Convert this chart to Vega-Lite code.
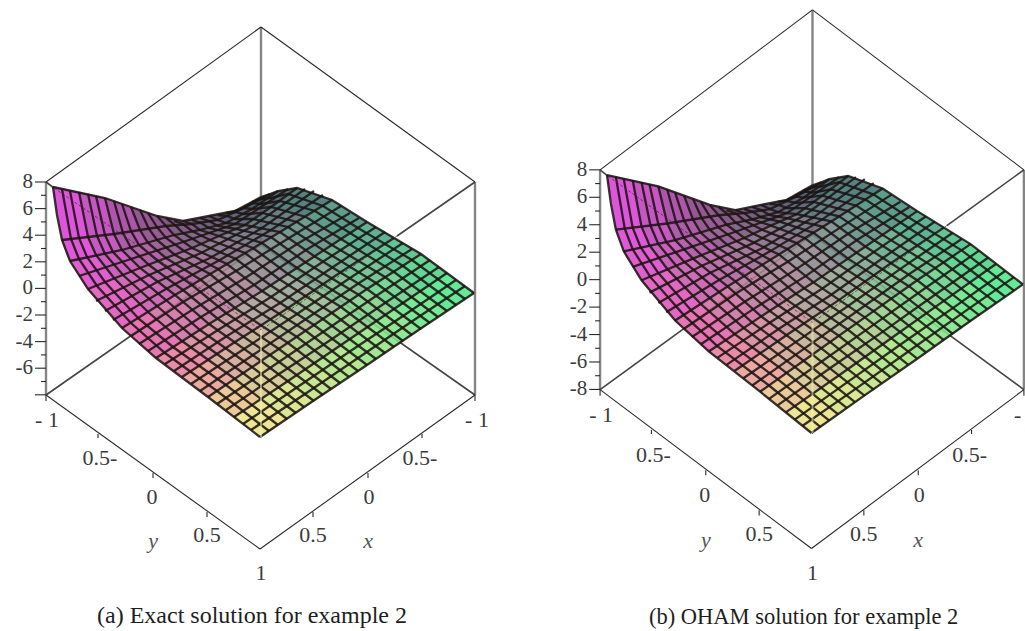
{"$schema":"https://vega.github.io/schema/vega-lite/v6.json","padding":0,"spacing":0,"background":"white","config":{"view":{"stroke":null},"text":{"font":"Liberation Serif"}},
"datasets":{
"cells":[
{"c":0,"xs":[53,79,88,62],"ys":[187,192,237,240]},{"c":1,"xs":[79,105,114,88],"ys":[192,198,234,237]},{"c":2,"xs":[105,131,140,114],"ys":[198,207,230,234]},{"c":3,"xs":[131,157,166,140],"ys":[207,216,226,230]},{"c":4,"xs":[157,183,192,166],"ys":[216,221,224,226]},{"c":5,"xs":[183,209,218,192],"ys":[221,216,220,224]},{"c":6,"xs":[209,235,244,218],"ys":[216,211,208,220]},{"c":7,"xs":[235,261,270,244],"ys":[211,197,194,208]},
{"c":8,"xs":[62,88,96,70],"ys":[240,237,255,261]},{"c":9,"xs":[88,114,122,96],"ys":[237,234,250,255]},{"c":10,"xs":[114,140,148,122],"ys":[234,230,243,250]},{"c":11,"xs":[140,166,174,148],"ys":[230,226,235,243]},{"c":12,"xs":[166,192,200,174],"ys":[226,224,230,235]},{"c":13,"xs":[192,218,226,200],"ys":[224,220,223,230]},{"c":14,"xs":[218,244,252,226],"ys":[220,208,209,223]},{"c":15,"xs":[244,270,278,252],"ys":[208,194,191,209]},
{"c":16,"xs":[70,96,114,88],"ys":[261,255,278,289]},{"c":17,"xs":[96,122,140,114],"ys":[255,250,268,278]},{"c":18,"xs":[122,148,166,140],"ys":[250,243,258,268]},{"c":19,"xs":[148,174,192,166],"ys":[243,235,248,258]},{"c":20,"xs":[174,200,219,192],"ys":[235,230,236,248]},{"c":21,"xs":[200,226,245,219],"ys":[230,223,225,236]},{"c":22,"xs":[226,252,271,245],"ys":[223,209,207,225]},{"c":23,"xs":[252,278,297,271],"ys":[209,191,188,207]},
{"c":24,"xs":[88,114,148,122],"ys":[289,278,312,328]},{"c":25,"xs":[114,140,175,148],"ys":[278,268,295,312]},{"c":26,"xs":[140,166,201,175],"ys":[268,258,280,295]},{"c":27,"xs":[166,192,227,201],"ys":[258,248,264,280]},{"c":28,"xs":[192,219,253,227],"ys":[248,236,248,264]},{"c":29,"xs":[219,245,280,253],"ys":[236,225,232,248]},{"c":30,"xs":[245,271,306,280],"ys":[225,207,217,232]},{"c":31,"xs":[271,297,332,306],"ys":[207,188,200,217]},
{"c":32,"xs":[122,148,182,156],"ys":[328,312,341,358]},{"c":33,"xs":[148,175,209,182],"ys":[312,295,324,341]},{"c":34,"xs":[175,201,235,209],"ys":[295,280,308,324]},{"c":35,"xs":[201,227,262,235],"ys":[280,264,291,308]},{"c":36,"xs":[227,253,288,262],"ys":[264,248,274,291]},{"c":37,"xs":[253,280,314,288],"ys":[248,232,256,274]},{"c":38,"xs":[280,306,341,314],"ys":[232,217,239,256]},{"c":39,"xs":[306,332,367,341],"ys":[217,200,222,239]},
{"c":40,"xs":[156,182,209,182],"ys":[358,341,360,377]},{"c":41,"xs":[182,209,235,209],"ys":[341,324,342,360]},{"c":42,"xs":[209,235,262,235],"ys":[324,308,325,342]},{"c":43,"xs":[235,262,288,262],"ys":[308,291,308,325]},{"c":44,"xs":[262,288,315,288],"ys":[291,274,290,308]},{"c":45,"xs":[288,314,341,315],"ys":[274,256,272,290]},{"c":46,"xs":[314,341,368,341],"ys":[256,239,255,272]},{"c":47,"xs":[341,367,394,368],"ys":[239,222,238,255]},
{"c":48,"xs":[182,209,235,208],"ys":[377,360,379,397]},{"c":49,"xs":[209,235,261,235],"ys":[360,342,361,379]},{"c":50,"xs":[235,262,288,261],"ys":[342,325,343,361]},{"c":51,"xs":[262,288,314,288],"ys":[325,308,325,343]},{"c":52,"xs":[288,315,341,314],"ys":[308,290,307,325]},{"c":53,"xs":[315,341,367,341],"ys":[290,272,289,307]},{"c":54,"xs":[341,368,394,367],"ys":[272,255,272,289]},{"c":55,"xs":[368,394,421,394],"ys":[255,238,254,272]},
{"c":56,"xs":[208,235,261,234],"ys":[397,379,399,417]},{"c":57,"xs":[235,261,288,261],"ys":[379,361,381,399]},{"c":58,"xs":[261,288,315,288],"ys":[361,343,363,381]},{"c":59,"xs":[288,314,341,315],"ys":[343,325,345,363]},{"c":60,"xs":[314,341,368,341],"ys":[325,307,327,345]},{"c":61,"xs":[341,367,394,368],"ys":[307,289,309,327]},{"c":62,"xs":[367,394,421,394],"ys":[289,272,291,309]},{"c":63,"xs":[394,421,447,421],"ys":[272,254,273,291]},
{"c":64,"xs":[234,261,287,260],"ys":[417,399,419,437]},{"c":65,"xs":[261,288,314,287],"ys":[399,381,401,419]},{"c":66,"xs":[288,315,340,314],"ys":[381,363,383,401]},{"c":67,"xs":[315,341,367,340],"ys":[363,345,365,383]},{"c":68,"xs":[341,368,394,367],"ys":[345,327,347,365]},{"c":69,"xs":[368,394,421,394],"ys":[327,309,329,347]},{"c":70,"xs":[394,421,447,421],"ys":[309,291,311,329]},{"c":71,"xs":[421,447,474,447],"ys":[291,273,293,311]}
],
"meshX":[
{"m":0,"xs":[53,57,62,70,88,122,156,208,260],"ys":[187,215,240,261,289,328,358,397,437]},
{"m":1,"xs":[62,71,79,97,131,165,217,269],"ys":[189,239,259,286,323,353,391,431]},
{"m":2,"xs":[70,79,87,105,139,173,226,278],"ys":[191,238,257,282,319,347,385,425]},
{"m":3,"xs":[79,88,96,114,148,182,235,287],"ys":[192,237,255,278,312,341,379,419]},
{"m":4,"xs":[88,97,105,123,157,191,243,296],"ys":[194,236,254,275,306,335,373,413]},
{"m":5,"xs":[96,105,113,131,166,200,252,304],"ys":[196,235,252,271,300,330,367,407]},
{"m":6,"xs":[105,114,122,140,175,209,261,314],"ys":[198,234,250,268,295,324,361,401]},
{"m":7,"xs":[114,123,131,149,183,218,270,323],"ys":[201,233,248,265,290,319,355,395]},
{"m":8,"xs":[122,131,139,158,192,226,279,331],"ys":[204,231,245,261,285,313,349,389]},
{"m":9,"xs":[131,140,148,166,201,235,288,340],"ys":[207,230,243,258,280,308,343,383]},
{"m":10,"xs":[140,149,157,175,210,244,297,349],"ys":[210,229,240,255,274,302,337,377]},
{"m":11,"xs":[148,157,166,184,218,253,306,358],"ys":[213,227,238,251,269,297,331,371]},
{"m":12,"xs":[157,166,174,192,227,262,314,367],"ys":[216,226,235,248,264,291,325,365]},
{"m":13,"xs":[166,175,183,201,236,270,323,376],"ys":[218,225,233,244,259,285,319,359]},
{"m":14,"xs":[174,183,192,210,245,279,332,385],"ys":[221,224,231,240,253,279,313,353]},
{"m":15,"xs":[183,192,200,219,253,288,341,394],"ys":[221,224,230,236,248,274,307,347]},
{"m":16,"xs":[192,201,209,227,262,297,350,403],"ys":[220,223,228,232,243,268,301,341]},
{"m":17,"xs":[200,209,218,236,271,305,359,412],"ys":[218,221,226,229,237,262,295,335]},
{"m":18,"xs":[209,218,226,245,280,314,367,421],"ys":[216,220,223,225,232,256,289,329]},
{"m":19,"xs":[218,227,235,253,288,323,376,430],"ys":[215,216,219,219,227,250,283,323]},
{"m":20,"xs":[226,235,244,262,297,332,385,438],"ys":[213,212,214,213,222,245,277,317]},
{"m":21,"xs":[235,244,252,271,306,341,394,447],"ys":[211,208,209,207,217,239,272,311]},
{"m":22,"xs":[244,253,261,280,315,350,403,456],"ys":[207,203,204,201,211,233,266,305]},
{"m":23,"xs":[252,261,270,288,323,358,412,465],"ys":[202,199,198,194,206,228,260,299]},
{"m":24,"xs":[261,270,278,297,332,367,421,474],"ys":[197,194,191,188,200,222,254,293]}
],
"meshY":[
{"k":0,"xs":[53,105,157,183,209,235,261],"ys":[187,198,216,221,216,211,197]},
{"k":1,"xs":[62,114,166,192,218,244,270],"ys":[240,234,226,224,220,208,194]},
{"k":2,"xs":[70,122,174,200,226,252,278],"ys":[261,250,235,230,223,209,191]},
{"k":3,"xs":[79,131,183,209,235,261,288],"ys":[276,259,242,233,224,207,189]},
{"k":4,"xs":[88,140,192,219,245,271,297],"ys":[289,268,248,236,225,207,188]},
{"k":5,"xs":[96,149,201,253,305],"ys":[301,275,253,226,189]},
{"k":6,"xs":[105,157,210,262,314],"ys":[311,282,258,228,191]},
{"k":7,"xs":[113,166,218,271,323],"ys":[320,289,261,230,195]},
{"k":8,"xs":[122,175,227,280,332],"ys":[328,295,264,232,200]},
{"k":9,"xs":[131,183,236,289,341],"ys":[336,302,271,238,206]},
{"k":10,"xs":[139,192,245,297,350],"ys":[344,310,278,244,213]},
{"k":11,"xs":[148,201,254,306,359],"ys":[351,317,285,250,218]},
{"k":12,"xs":[156,209,262,315,367],"ys":[358,324,291,256,222]},
{"k":13,"xs":[165,218,271,324,376],"ys":[364,330,297,261,227]},
{"k":14,"xs":[174,227,280,333,385],"ys":[371,336,303,267,232]},
{"k":15,"xs":[182,235,288,341,394],"ys":[377,342,308,272,238]},
{"k":16,"xs":[191,244,297,350,403],"ys":[384,349,314,278,243]},
{"k":17,"xs":[200,253,306,359,412],"ys":[391,355,319,283,249]},
{"k":18,"xs":[208,261,314,367,421],"ys":[397,361,325,289,254]},
{"k":19,"xs":[217,270,323,376,430],"ys":[404,368,332,296,260]},
{"k":20,"xs":[226,279,332,385,439],"ys":[410,374,339,303,267]},
{"k":21,"xs":[234,288,341,394,447],"ys":[417,381,345,309,273]},
{"k":22,"xs":[243,296,349,403,456],"ys":[424,388,352,316,280]},
{"k":23,"xs":[251,305,358,411,465],"ys":[430,394,358,322,286]},
{"k":24,"xs":[260,313,367,420,474],"ys":[437,401,365,329,293]}
],
"posts":[{"x":261,"y":27,"x2":261,"y2":245},{"x":46,"y":182,"x2":46,"y2":395},{"x":475,"y":182,"x2":475,"y2":395}],
"floor":[{"x":46,"y":395,"x2":261,"y2":245},{"x":475,"y":395,"x2":261,"y2":245},{"x":475,"y":182,"x2":397,"y2":236},{"x":46,"y":182,"x2":54,"y2":188}],
"thin":[{"x":261,"y":27,"x2":46,"y2":182},{"x":261,"y":27,"x2":475,"y2":182},{"x":46,"y":395,"x2":260,"y2":549},{"x":475,"y":395,"x2":260,"y2":549},
{"x":35,"y":182,"x2":46,"y2":182},{"x":35,"y":208.6,"x2":46,"y2":208.6},{"x":35,"y":235.2,"x2":46,"y2":235.2},{"x":35,"y":261.8,"x2":46,"y2":261.8},{"x":35,"y":288.4,"x2":46,"y2":288.4},{"x":35,"y":315,"x2":46,"y2":315},{"x":35,"y":341.6,"x2":46,"y2":341.6},{"x":35,"y":368.2,"x2":46,"y2":368.2},{"x":35,"y":394.8,"x2":46,"y2":394.8},
{"x":41,"y":195.3,"x2":46,"y2":195.3},{"x":41,"y":221.9,"x2":46,"y2":221.9},{"x":41,"y":248.5,"x2":46,"y2":248.5},{"x":41,"y":275.1,"x2":46,"y2":275.1},{"x":41,"y":301.7,"x2":46,"y2":301.7},{"x":41,"y":328.3,"x2":46,"y2":328.3},{"x":41,"y":354.9,"x2":46,"y2":354.9},{"x":41,"y":381.5,"x2":46,"y2":381.5},
{"x":46,"y":395,"x2":46,"y2":401},{"x":98,"y":434,"x2":98,"y2":438},{"x":153,"y":473,"x2":153,"y2":478},{"x":207,"y":512,"x2":207,"y2":517},
{"x":475,"y":395,"x2":475,"y2":401},{"x":422,"y":434,"x2":422,"y2":438},{"x":368,"y":473,"x2":368,"y2":478},{"x":313,"y":512,"x2":313,"y2":517}],
"seams":[{"x":54,"y":188,"x2":261,"y2":330},{"x":397,"y":236,"x2":261,"y2":330}],
"pale":[{"x":261,"y":330,"x2":261,"y2":437}],
"ticks":[{"t":"- 1","x":47,"y":420},{"t":"0.5-","x":100,"y":458},{"t":"0","x":152,"y":497},{"t":"0.5","x":207,"y":535},{"t":"1","x":261,"y":573},{"t":"- 1","x":477,"y":420},{"t":"0.5-","x":420,"y":458},{"t":"0","x":369,"y":497},{"t":"0.5","x":313,"y":535}],
"names":[{"t":"y","x":153,"y":541},{"t":"x","x":368,"y":541}],
"zA":[{"t":"8","x":33,"y":182},{"t":"6","x":33,"y":208.6},{"t":"4","x":33,"y":235.2},{"t":"2","x":33,"y":261.8},{"t":"0","x":33,"y":288.4},{"t":"-2","x":33,"y":315},{"t":"-4","x":33,"y":341.6},{"t":"-6","x":33,"y":368.2}],
"zB":[{"t":"8","x":33,"y":182},{"t":"6","x":33,"y":208.6},{"t":"4","x":33,"y":235.2},{"t":"2","x":33,"y":261.8},{"t":"0","x":33,"y":288.4},{"t":"-2","x":33,"y":315},{"t":"-4","x":33,"y":341.6},{"t":"-6","x":33,"y":368.2},{"t":"-8","x":33,"y":394.8}]
},
"hconcat":[
{"width":512,"height":631,
"encoding":{"x":{"field":"x","type":"quantitative","axis":null,"scale":{"domain":[0,512]}},"y":{"field":"y","type":"quantitative","axis":null,"scale":{"domain":[0,631],"reverse":true}}},
"layer":[
{"data":{"name":"posts"},"mark":{"type":"rule","color":"#858585","strokeWidth":2.4},"encoding":{"x2":{"field":"x2"},"y2":{"field":"y2"}}},
{"data":{"name":"floor"},"mark":{"type":"rule","color":"#444444","strokeWidth":1.6},"encoding":{"x2":{"field":"x2"},"y2":{"field":"y2"}}},
{"data":{"name":"thin"},"mark":{"type":"rule","color":"#2a2a2a","strokeWidth":1.1},"encoding":{"x2":{"field":"x2"},"y2":{"field":"y2"}}},
{"data":{"name":"cells"},"transform":[{"flatten":["xs","ys"],"as":["x","y"]}],"mark":{"type":"line","strokeWidth":0,"opacity":0.88,"interpolate":"linear-closed"},"encoding":{"order":{"value":null},"fill":{"field":"c","type":"ordinal","legend":null,"scale":{"range":["rgb(216,62,214)","rgb(189,63,187)","rgb(162,63,161)","rgb(135,64,134)","rgb(112,65,117)","rgb(92,68,110)","rgb(71,70,103)","rgb(51,73,96)","rgb(218,66,209)","rgb(191,67,185)","rgb(165,69,160)","rgb(138,70,136)","rgb(115,72,120)","rgb(94,75,113)","rgb(73,77,106)","rgb(52,80,99)","rgb(219,72,201)","rgb(194,75,180)","rgb(168,78,159)","rgb(143,81,138)","rgb(119,83,124)","rgb(98,86,117)","rgb(77,88,110)","rgb(56,91,103)","rgb(223,83,188)","rgb(199,89,173)","rgb(176,96,158)","rgb(152,102,143)","rgb(129,106,132)","rgb(106,109,126)","rgb(84,111,119)","rgb(61,114,113)","rgb(227,98,169)","rgb(206,109,162)","rgb(185,119,155)","rgb(164,130,148)","rgb(141,136,142)","rgb(117,139,137)","rgb(93,141,131)","rgb(69,144,126)","rgb(231,123,156)","rgb(211,134,154)","rgb(190,145,151)","rgb(170,156,149)","rgb(148,162,146)","rgb(123,164,142)","rgb(98,167,137)","rgb(73,169,133)","rgb(232,158,148)","rgb(211,165,147)","rgb(191,173,145)","rgb(170,180,144)","rgb(148,185,142)","rgb(124,186,140)","rgb(100,188,137)","rgb(76,189,135)","rgb(233,193,141)","rgb(212,197,140)","rgb(191,200,139)","rgb(170,204,138)","rgb(148,207,138)","rgb(125,208,137)","rgb(101,209,137)","rgb(78,210,136)","rgb(234,227,134)","rgb(213,228,133)","rgb(191,228,133)","rgb(170,229,132)","rgb(149,229,133)","rgb(126,229,135)","rgb(103,230,136)","rgb(80,230,138)"]}}}},
{"data":{"name":"meshX"},"transform":[{"flatten":["xs","ys"],"as":["x","y"]}],"mark":{"type":"line","color":"#1c1412","strokeWidth":2.3,"opacity":0.88},"encoding":{"detail":{"field":"m"},"order":{"value":null}}},
{"data":{"name":"meshY"},"transform":[{"flatten":["xs","ys"],"as":["x","y"]}],"mark":{"type":"line","color":"#1c1412","strokeWidth":2.3,"opacity":0.88},"encoding":{"detail":{"field":"k"},"order":{"value":null}}},
{"data":{"name":"seams"},"mark":{"type":"rule","color":"#3a2a3a","strokeWidth":1,"strokeDash":[3,2],"opacity":0.7},"encoding":{"x2":{"field":"x2"},"y2":{"field":"y2"}}},
{"data":{"name":"pale"},"mark":{"type":"rule","color":"#f2f2b0","strokeWidth":2,"opacity":0.55},"encoding":{"x2":{"field":"x2"},"y2":{"field":"y2"}}},
{"data":{"name":"ticks"},"mark":{"type":"text","font":"Liberation Serif","fontSize":22,"color":"#3c3c3c","baseline":"middle","align":"center","clip":true},"encoding":{"text":{"field":"t"}}},
{"data":{"name":"names"},"mark":{"type":"text","font":"Liberation Serif","fontStyle":"italic","fontSize":22,"color":"#555555","baseline":"middle","align":"center","clip":true},"encoding":{"text":{"field":"t"}}},
{"data":{"name":"zA"},"mark":{"type":"text","font":"Liberation Serif","fontSize":21,"color":"#3c3c3c","baseline":"middle","align":"right","clip":true},"encoding":{"text":{"field":"t"}}},
{"data":{"values":[{"t":"(a) Exact solution for example 2","x":252,"y":616}]},"mark":{"type":"text","font":"Liberation Serif","fontSize":24,"color":"#1e1e1e","baseline":"middle","align":"center","clip":true},"encoding":{"text":{"field":"t"}}}
]},
{"width":513,"height":631,
"encoding":{"x":{"field":"x","type":"quantitative","axis":null,"scale":{"domain":[-43.15,476.1]}},"y":{"field":"y","type":"quantitative","axis":null,"scale":{"domain":[17.4,628.9],"reverse":true}}},
"layer":[
{"data":{"name":"posts"},"mark":{"type":"rule","color":"#858585","strokeWidth":2.4},"encoding":{"x2":{"field":"x2"},"y2":{"field":"y2"}}},
{"data":{"name":"floor"},"mark":{"type":"rule","color":"#444444","strokeWidth":1.6},"encoding":{"x2":{"field":"x2"},"y2":{"field":"y2"}}},
{"data":{"name":"thin"},"mark":{"type":"rule","color":"#2a2a2a","strokeWidth":1.1},"encoding":{"x2":{"field":"x2"},"y2":{"field":"y2"}}},
{"data":{"name":"cells"},"transform":[{"flatten":["xs","ys"],"as":["x","y"]}],"mark":{"type":"line","strokeWidth":0,"opacity":0.88,"interpolate":"linear-closed"},"encoding":{"order":{"value":null},"fill":{"field":"c","type":"ordinal","legend":null,"scale":{"range":["rgb(216,62,214)","rgb(189,63,187)","rgb(162,63,161)","rgb(135,64,134)","rgb(112,65,117)","rgb(92,68,110)","rgb(71,70,103)","rgb(51,73,96)","rgb(218,66,209)","rgb(191,67,185)","rgb(165,69,160)","rgb(138,70,136)","rgb(115,72,120)","rgb(94,75,113)","rgb(73,77,106)","rgb(52,80,99)","rgb(219,72,201)","rgb(194,75,180)","rgb(168,78,159)","rgb(143,81,138)","rgb(119,83,124)","rgb(98,86,117)","rgb(77,88,110)","rgb(56,91,103)","rgb(223,83,188)","rgb(199,89,173)","rgb(176,96,158)","rgb(152,102,143)","rgb(129,106,132)","rgb(106,109,126)","rgb(84,111,119)","rgb(61,114,113)","rgb(227,98,169)","rgb(206,109,162)","rgb(185,119,155)","rgb(164,130,148)","rgb(141,136,142)","rgb(117,139,137)","rgb(93,141,131)","rgb(69,144,126)","rgb(231,123,156)","rgb(211,134,154)","rgb(190,145,151)","rgb(170,156,149)","rgb(148,162,146)","rgb(123,164,142)","rgb(98,167,137)","rgb(73,169,133)","rgb(232,158,148)","rgb(211,165,147)","rgb(191,173,145)","rgb(170,180,144)","rgb(148,185,142)","rgb(124,186,140)","rgb(100,188,137)","rgb(76,189,135)","rgb(233,193,141)","rgb(212,197,140)","rgb(191,200,139)","rgb(170,204,138)","rgb(148,207,138)","rgb(125,208,137)","rgb(101,209,137)","rgb(78,210,136)","rgb(234,227,134)","rgb(213,228,133)","rgb(191,228,133)","rgb(170,229,132)","rgb(149,229,133)","rgb(126,229,135)","rgb(103,230,136)","rgb(80,230,138)"]}}}},
{"data":{"name":"meshX"},"transform":[{"flatten":["xs","ys"],"as":["x","y"]}],"mark":{"type":"line","color":"#1c1412","strokeWidth":2.3,"opacity":0.88},"encoding":{"detail":{"field":"m"},"order":{"value":null}}},
{"data":{"name":"meshY"},"transform":[{"flatten":["xs","ys"],"as":["x","y"]}],"mark":{"type":"line","color":"#1c1412","strokeWidth":2.3,"opacity":0.88},"encoding":{"detail":{"field":"k"},"order":{"value":null}}},
{"data":{"name":"seams"},"mark":{"type":"rule","color":"#3a2a3a","strokeWidth":1,"strokeDash":[3,2],"opacity":0.7},"encoding":{"x2":{"field":"x2"},"y2":{"field":"y2"}}},
{"data":{"name":"pale"},"mark":{"type":"rule","color":"#f2f2b0","strokeWidth":2,"opacity":0.55},"encoding":{"x2":{"field":"x2"},"y2":{"field":"y2"}}},
{"data":{"name":"ticks"},"mark":{"type":"text","font":"Liberation Serif","fontSize":22,"color":"#3c3c3c","baseline":"middle","align":"center","clip":true},"encoding":{"text":{"field":"t"}}},
{"data":{"name":"names"},"mark":{"type":"text","font":"Liberation Serif","fontStyle":"italic","fontSize":22,"color":"#555555","baseline":"middle","align":"center","clip":true},"encoding":{"text":{"field":"t"}}},
{"data":{"name":"zB"},"mark":{"type":"text","font":"Liberation Serif","fontSize":21,"color":"#3c3c3c","baseline":"middle","align":"right","clip":true},"encoding":{"text":{"field":"t"}}},
{"data":{"values":[{"t":"(b) OHAM solution for example 2","x":252,"y":615}]},"mark":{"type":"text","font":"Liberation Serif","fontSize":22.5,"color":"#1e1e1e","baseline":"middle","align":"center","clip":true},"encoding":{"text":{"field":"t"}}}
]}
]}
